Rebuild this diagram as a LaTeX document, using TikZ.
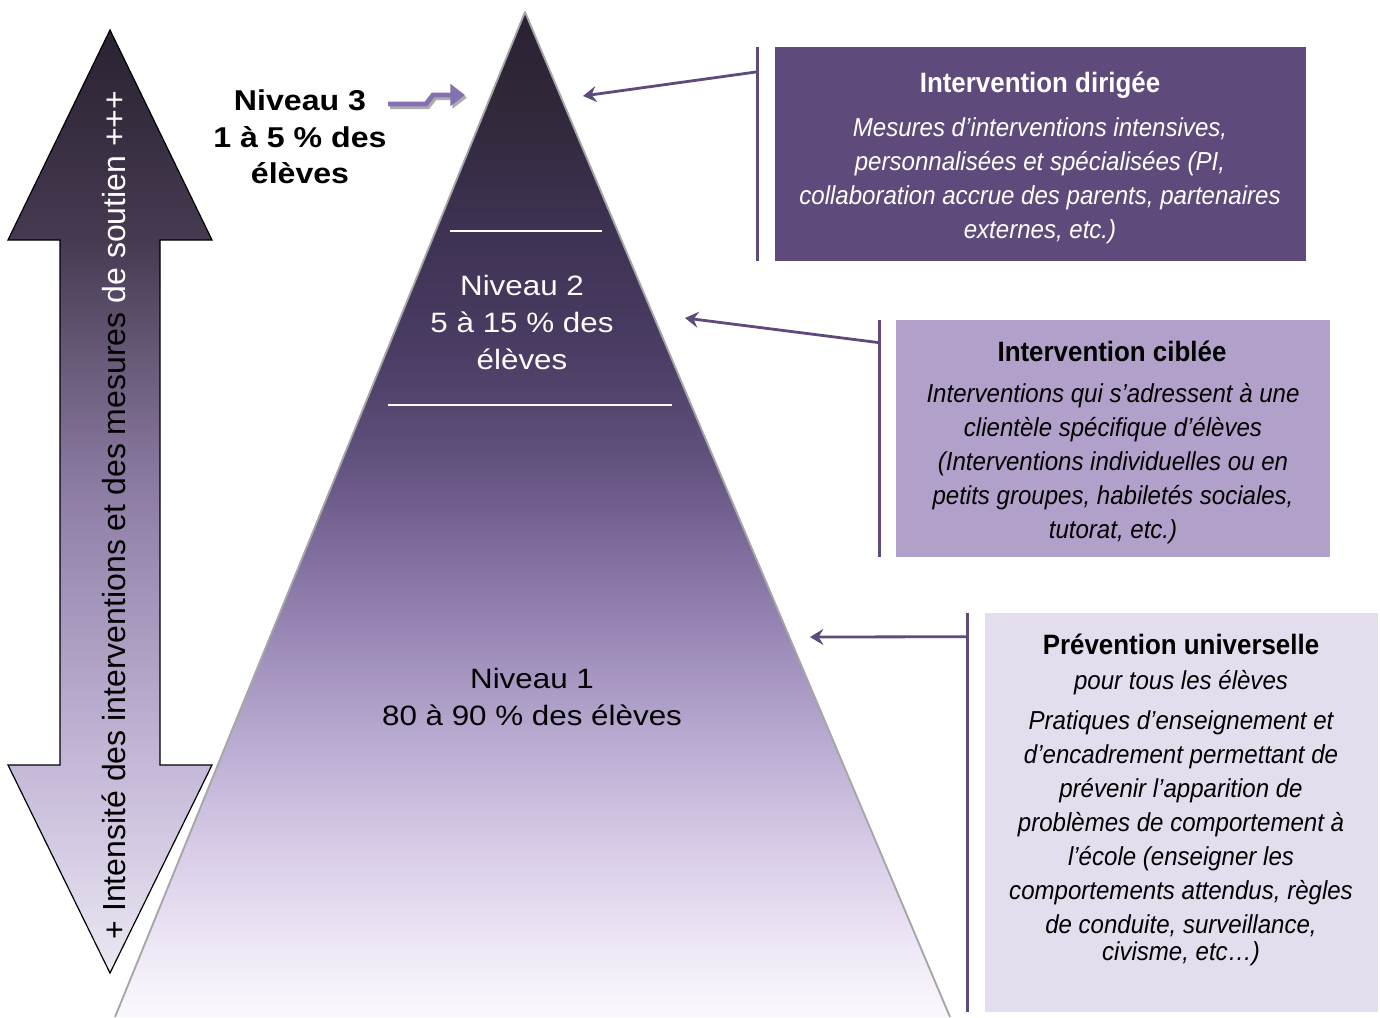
\documentclass[tikz,border=0pt]{standalone}
\usepackage{fontspec}
\setmainfont{Liberation Sans}
\newfontfamily\wfont[FakeStretch=1.12]{Liberation Sans}
\newfontfamily\nfont[FakeStretch=0.925]{Liberation Sans}
\usetikzlibrary{arrows.meta}
\definecolor{boxA}{HTML}{5F4B7B}
\definecolor{boxB}{HTML}{B1A0C9}
\definecolor{boxC}{HTML}{E3DDED}
\definecolor{lnk}{HTML}{5F4B7B}
\definecolor{nvarrow}{HTML}{8470B2}
\definecolor{pA}{HTML}{FBF8FD}
\definecolor{pB}{HTML}{EFE8F6}
\definecolor{pC}{HTML}{D8CCE8}
\definecolor{pD}{HTML}{BCAED3}
\definecolor{pE}{HTML}{9E8DBA}
\definecolor{pF}{HTML}{7F6D9D}
\definecolor{pG}{HTML}{5F4F7B}
\definecolor{pH}{HTML}{4A3C63}
\definecolor{pI}{HTML}{3E3253}
\definecolor{pJ}{HTML}{302738}
\definecolor{pK}{HTML}{2A2232}
\definecolor{aA}{HTML}{ECE8F3}
\definecolor{aB}{HTML}{C5B8D8}
\definecolor{aC}{HTML}{8F7FA7}
\definecolor{aD}{HTML}{463A51}
\definecolor{aE}{HTML}{2A2231}
\pgfdeclareverticalshading{pyrshade}{100bp}{color(0bp)=(pA); color(25bp)=(pA); color(28.3bp)=(pB); color(33.3bp)=(pC); color(38.3bp)=(pD); color(43.3bp)=(pE); color(48.2bp)=(pF); color(53.2bp)=(pG); color(58.2bp)=(pH); color(64.2bp)=(pI); color(70.6bp)=(pJ); color(75bp)=(pK); color(100bp)=(pK)}
\pgfdeclareverticalshading{arrshade}{100bp}{color(0bp)=(aA); color(25bp)=(aA); color(36bp)=(aB); color(50.1bp)=(aC); color(63.9bp)=(aD); color(75bp)=(aE); color(100bp)=(aE)}
\tikzset{
  boxnode/.style={inner sep=0pt, draw=none},
  titletext/.style={font=\nfont\bfseries\fontsize{21}{25}\selectfont, inner sep=0pt},
  bodytext/.style={font=\nfont\itshape\fontsize{19.5}{25.5}\selectfont, align=center, inner sep=0pt},
  leveltext/.style={font=\wfont\fontsize{21}{27.75}\selectfont, align=center, inner sep=0pt},
  barline/.style={draw=lnk, line width=2.25pt},
  conn/.style={draw=lnk, line width=2.1pt, -{Stealth[length=10pt, width=12pt, inset=3.5pt]}},
}
\begin{document}
\begin{tikzpicture}[x=0.75pt,y=-0.75pt]
\useasboundingbox (0,0) rectangle (1380,1017);
\fill[white] (0,0) rectangle (1380,1017);

% pyramid
\coordinate (apex) at (525,12);
\coordinate (bl) at (115,1017);
\coordinate (br) at (950,1017);
\shade[shading=pyrshade] (apex) -- (br) -- (bl) -- cycle;
\draw[black!35, line width=1.4pt, line join=round] (bl) -- (apex) -- (br);
\draw[white, line width=2pt] (450,231) -- (602,231);
\draw[white, line width=2pt] (388,405) -- (672,405);

% double arrow
\shadedraw[shading=arrshade, draw=black, line width=0.9pt, line join=miter]
  (110,30) -- (212,240) -- (160,240) -- (160,765) -- (212,765) -- (110,973)
  -- (8,765) -- (60,765) -- (60,240) -- (8,240) -- cycle;
\node[rotate=90, inner sep=0pt, font=\fontsize{24}{28}\selectfont] (vt) at (114,515)
  {{\color{black}+ Intensité des interventions et des mesures }{\color{white}de soutien +++}};

% level texts
\node[leveltext, font=\wfont\bfseries\fontsize{21.5}{27.4}\selectfont] (n3) at (300,137) {Niveau 3\\1 à 5 \% des\\élèves};
\node[leveltext, text=white] (n2) at (522,322) {Niveau 2\\5 à 15 \% des\\élèves};
\node[leveltext, text=black] (n1) at (532,697) {Niveau 1\\80 à 90 \% des élèves};

% Niveau 3 bent arrow
\coordinate (n3s) at (388,104);
\coordinate (n3k1) at (426,104);
\coordinate (n3k2) at (433,95);
\coordinate (n3t) at (465,95);
\draw[gray!65, line width=3.6pt, -{Triangle[length=11pt, width=16pt]}]
  ([shift={(1.5pt,-2pt)}]n3s) -- ([shift={(1.5pt,-2pt)}]n3k1) -- ([shift={(1.5pt,-2pt)}]n3k2) -- ([shift={(1.5pt,-2pt)}]n3t);
\draw[nvarrow, line width=3.6pt, -{Triangle[length=11pt, width=16pt]}]
  (n3s) -- (n3k1) -- (n3k2) -- (n3t);

% boxes
\node[boxnode, fill=boxA, minimum width=398.25pt, minimum height=160.5pt] (b1) at (1040.5,154) {};
\node[boxnode, fill=boxB, minimum width=325.5pt, minimum height=177.75pt] (b2) at (1113,438.5) {};
\node[boxnode, fill=boxC, minimum width=294.75pt, minimum height=299.25pt] (b3) at (1181.5,812.5) {};

\draw[barline] ([xshift=-12.75pt]b1.north west) -- ([xshift=-12.75pt]b1.south west);
\draw[barline] ([xshift=-12pt]b2.north west) -- ([xshift=-12pt]b2.south west);
\draw[barline] ([xshift=-12.75pt]b3.north west) -- ([xshift=-12.75pt]b3.south west);

\coordinate (t1) at (583,96);
\coordinate (t2) at (685,318);
\coordinate (t3) at (810,637);
\draw[conn] ([xshift=-12.75pt,yshift=-18.75pt]b1.north west) -- (t1);
\draw[conn] ([xshift=-12pt,yshift=-17.25pt]b2.north west) -- (t2);
\draw[conn] ([xshift=-12.75pt,yshift=-18pt]b3.north west) -- (t3);

% box texts
\node[titletext, text=white] (b1t) at (1040,85) {Intervention dirigée};
\node[bodytext, text=white] (b1b) at (1040,181) {Mesures d’interventions intensives,\\personnalisées et spécialisées (PI,\\collaboration accrue des parents, partenaires\\externes, etc.)};

\node[titletext, text=black] (b2t) at (1112,351) {Intervention ciblée};
\node[bodytext, text=black] (b2b) at (1113,464) {Interventions qui s’adressent à une\\clientèle spécifique d’élèves\\(Interventions individuelles ou en\\petits groupes, habiletés sociales,\\tutorat, etc.)};

\node[titletext, text=black] (b3t) at (1181,644) {Prévention universelle};
\node[bodytext, text=black] (b3s) at (1181,683) {pour tous les élèves};
\node[bodytext, text=black] (b3b) at (1181,838) {Pratiques d’enseignement et\\d’encadrement permettant de\\prévenir l’apparition de\\problèmes de comportement à\\l’école (enseigner les\\comportements attendus, règles\\de conduite, surveillance,\\[-5.25pt]civisme, etc…)};
\end{tikzpicture}
\end{document}
